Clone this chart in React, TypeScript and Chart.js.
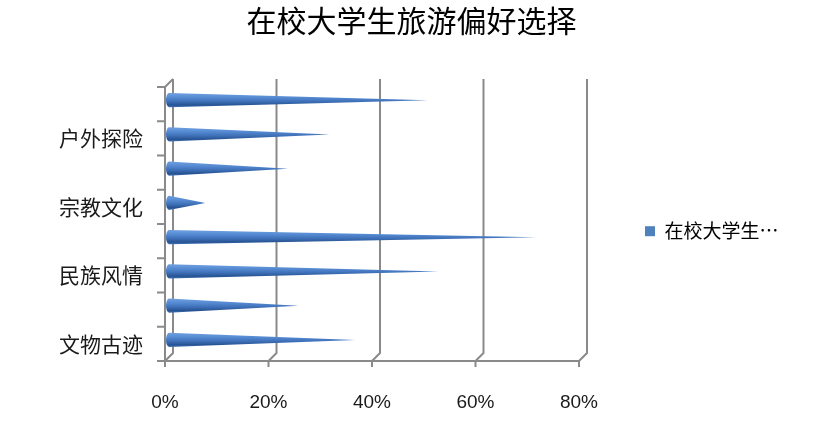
import { useEffect, useRef } from 'react';
import { Chart, registerables } from 'chart.js';

Chart.register(...registerables);

// ── Data ──

const categories = ['文物古迹', '', '民族风情', '', '宗教文化', '', '户外探险', ''];
const shares = [36, 25, 52, 71, 7, 23, 31, 50];
const xTicks = [0, 20, 40, 60, 80];
const seriesName = '在校大学生…';
const titleText = '在校大学生旅游偏好选择';

// ── Styling ──

const CJK = '"Noto Sans CJK SC", sans-serif';
const LATIN = '"Liberation Sans", "Noto Sans CJK SC", sans-serif';
const DEPTH = 8;
const AXIS = '#8a8a8a';
const SERIES = '#4f81bd';
const LEGEND_WIDTH = 244;

// keep the legend column wide so the plot ends where the reference does
const legendWidth = {
  id: 'legendWidth',
  beforeLayout(chart: any) {
    const lg = chart.legend;
    if (!lg || lg._wide) return;
    const fit = lg.fit.bind(lg);
    lg.fit = () => {
      fit();
      lg.width = LEGEND_WIDTH;
    };
    lg._wide = true;
  },
};

// 3D frame: back wall gridlines, floor diagonals, front axes
const frame3d = {
  id: 'frame3d',
  beforeDatasetsDraw(chart: any) {
    const { ctx, chartArea: a, scales } = chart;
    const x = scales.x;
    const y = scales.y;
    ctx.save();
    ctx.strokeStyle = AXIS;
    ctx.lineWidth = 2;
    ctx.beginPath();
    xTicks.forEach((v) => {
      const px = x.getPixelForValue(v);
      ctx.moveTo(px + DEPTH, a.top - DEPTH);
      ctx.lineTo(px + DEPTH, a.bottom - DEPTH);
      ctx.lineTo(px, a.bottom);
      ctx.moveTo(px, a.bottom);
      ctx.lineTo(px, a.bottom + 6);
    });
    // left wall top edge + front axis
    ctx.moveTo(a.left + DEPTH, a.top - DEPTH);
    ctx.lineTo(a.left, a.top);
    ctx.lineTo(a.left, a.bottom);
    // front bottom axis
    ctx.moveTo(a.left, a.bottom);
    ctx.lineTo(a.right, a.bottom);
    // category boundary ticks
    const step = Math.abs(y.getPixelForValue(1) - y.getPixelForValue(0));
    categories.forEach((_, i) => {
      const py = y.getPixelForValue(i) + step / 2;
      ctx.moveTo(a.left - 8, py);
      ctx.lineTo(a.left, py);
    });
    const topTick = y.getPixelForValue(categories.length - 1) - step / 2;
    ctx.moveTo(a.left - 8, topTick);
    ctx.lineTo(a.left, topTick);
    ctx.stroke();
    ctx.restore();
  },
};

// cone shaped bars, drawn from the bar elements' own geometry
const cones = {
  id: 'cones',
  beforeDatasetDraw() {
    return false;
  },
  afterDatasetsDraw(chart: any) {
    const { ctx } = chart;
    const meta = chart.getDatasetMeta(0);
    ctx.save();
    meta.data.forEach((bar: any) => {
      const { x, y, base, height } = bar.getProps(['x', 'y', 'base', 'height'], true);
      const r = height / 2;
      const bx = base + DEPTH / 2;
      const cy = y - DEPTH / 2;
      const tx = x + DEPTH / 2;
      const g = ctx.createLinearGradient(0, cy - r, 0, cy + r);
      g.addColorStop(0, '#6f9fdf');
      g.addColorStop(0.25, '#5a8fd6');
      g.addColorStop(0.6, '#3e70b8');
      g.addColorStop(0.85, '#275392');
      g.addColorStop(1, '#3d6fb4');
      ctx.fillStyle = g;
      ctx.beginPath();
      ctx.moveTo(tx, cy);
      ctx.lineTo(bx, cy - r);
      ctx.ellipse(bx, cy, 3, r, 0, -Math.PI / 2, Math.PI / 2, true);
      ctx.closePath();
      ctx.fill();
    });
    ctx.restore();
  },
};

export default function App() {
  const canvasRef = useRef<HTMLCanvasElement>(null);

  useEffect(() => {
    if (!canvasRef.current) return;
    const chart = new Chart(canvasRef.current, {
      type: 'bar',
      data: {
        labels: categories,
        datasets: [
          {
            label: seriesName,
            data: shares,
            backgroundColor: SERIES,
            categoryPercentage: 1,
            barPercentage: 0.41,
          },
        ],
      },
      options: {
        indexAxis: 'y',
        responsive: false,
        animation: false,
        layout: { padding: 0 },
        plugins: {
          title: {
            display: true,
            text: titleText,
            color: '#000',
            font: { family: CJK, size: 30, weight: 'normal' },
            padding: { top: 3, bottom: 48 },
          },
          legend: {
            position: 'right',
            title: { display: true, text: '', font: { size: 12 }, padding: { top: 10, bottom: 10 } },
            labels: {
              boxWidth: 10,
              boxHeight: 10,
              padding: 66,
              color: '#000',
              font: { family: CJK, size: 19 },
            },
          },
          tooltip: { enabled: false },
        },
        scales: {
          x: {
            min: 0,
            max: 80,
            grid: { display: false, drawTicks: false },
            border: { display: false },
            ticks: {
              stepSize: 20,
              callback: (v: any) => `${v}%`,
              color: '#1a1a1a',
              padding: 30,
              font: { family: LATIN, size: 19 },
            },
            afterFit: (s: any) => {
              s.height = 67;
            },
          },
          y: {
            reverse: true,
            grid: { display: false, drawTicks: false },
            border: { display: false },
            ticks: {
              autoSkip: false,
              color: '#1a1a1a',
              padding: 22,
              font: { family: CJK, size: 21 },
            },
            afterFit: (s: any) => {
              s.width = 165;
            },
          },
        },
      },
      plugins: [legendWidth, frame3d, cones],
    });
    return () => chart.destroy();
  }, []);

  return (
    <div style={{ position: 'fixed', left: 0, top: 0, width: 823, height: 428, background: '#fff' }}>
      <canvas ref={canvasRef} width={823} height={428} />
    </div>
  );
}
